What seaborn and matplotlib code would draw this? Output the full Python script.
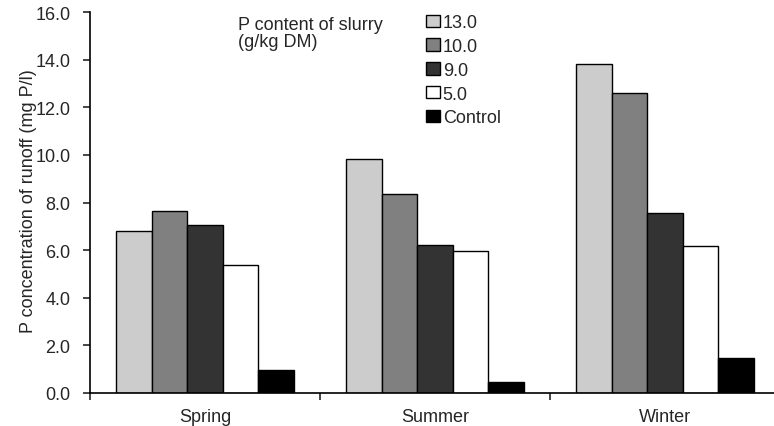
import pandas as pd
import matplotlib.pyplot as plt
import seaborn as sns
from matplotlib.ticker import FixedLocator, FormatStrFormatter

# values
seasons = ['Spring', 'Summer', 'Winter']
p_levels = ['13.0', '10.0', '9.0', '5.0', 'Control']
p_13 = [6.79, 9.84, 13.81]
p_10 = [7.63, 8.34, 12.60]
p_9 = [7.07, 6.23, 7.55]
p_5 = [5.38, 5.97, 6.19]
p_control = [0.98, 0.46, 1.45]
bar_colors = ['#cccccc', '#808080', '#333333', '#ffffff', '#000000']

# long format table for seaborn
series = [p_13, p_10, p_9, p_5, p_control]
rows = []
for level, vals in zip(p_levels, series):
    for season, v in zip(seasons, vals):
        rows.append({'season': season, 'level': level, 'conc': v})
plot_df = pd.DataFrame(rows)

sns.set_style('white')
plt.rcParams['font.family'] = ['Liberation Sans', 'DejaVu Sans']
fs = 13

W, H = 774, 427
fig = plt.figure(figsize=(W / 100, H / 100), dpi=100)
ax = fig.add_axes([90 / W, 33 / H, 690 / W, 381 / H])

sns.barplot(data=plot_df, x='season', y='conc', hue='level', order=seasons,
            hue_order=p_levels, palette=dict(zip(p_levels, bar_colors)),
            width=0.774, edgecolor='black', linewidth=1.0, saturation=1,
            errorbar=None, ax=ax, legend=True)

ax.set_xlim(-0.5, 2.5)
ax.set_ylim(0, 16)
ax.yaxis.set_major_locator(FixedLocator([0, 2, 4, 6, 8, 10, 12, 14, 16]))
ax.yaxis.set_major_formatter(FormatStrFormatter('%.1f'))
ax.set_xlabel('')
ax.set_ylabel('P concentration of runoff (mg P/l)', fontsize=fs)
ax.yaxis.set_label_coords(-53 / 690, 0.505)

ax.xaxis.set_minor_locator(FixedLocator([-0.5, 0.5, 1.5, 2.5]))
ax.tick_params(axis='x', which='major', length=0, pad=11, labelsize=fs)
ax.tick_params(axis='x', which='minor', bottom=True, length=5, width=1.2, direction='out')
ax.tick_params(axis='y', left=True, length=5, width=1.2, direction='out', pad=9, labelsize=fs)

for side in ['top', 'right']:
    ax.spines[side].set_visible(False)
for side in ['left', 'bottom']:
    ax.spines[side].set_linewidth(1.2)
    ax.spines[side].set_color('black')

# legend: entries on the right, title to the left as free text
handles, labels = ax.get_legend_handles_labels()
ax.legend(handles, labels, loc='upper left', bbox_to_anchor=(426 / W, 1 - 15 / H),
          bbox_transform=fig.transFigure, frameon=False, fontsize=fs,
          handlelength=0.78, handleheight=0.67, handletextpad=0.15,
          labelspacing=0.38, borderpad=0, borderaxespad=0)
fig.text(238 / W, 1 - 17 / H, 'P content of slurry\n(g/kg DM)', ha='left', va='top',
         fontsize=fs, linespacing=1.0)

fig.savefig('out.png', dpi=100)
